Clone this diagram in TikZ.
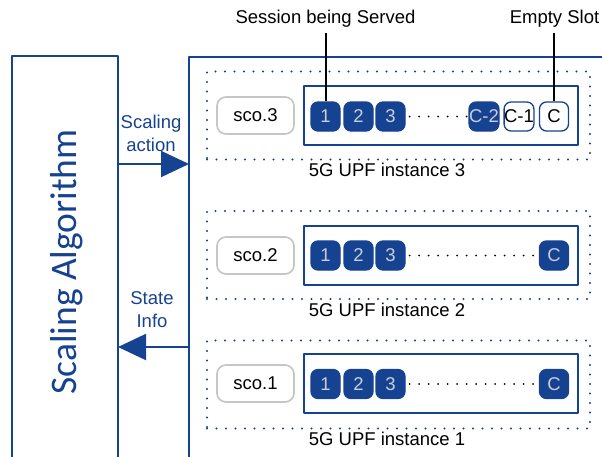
\documentclass[tikz,border=0pt]{standalone}
\usepackage{fontspec}
\setmainfont{Liberation Sans}
\newfontfamily\calibri{Carlito}
\usepackage{xcolor}
\usepackage{tikz}
\usetikzlibrary{arrows.meta,positioning}
\definecolor{upfblue}{RGB}{22,66,146}
\definecolor{slottext}{RGB}{200,206,218}

\begin{document}
\begin{tikzpicture}[x=1pt, y=-1pt, line join = round,
    every node/.style={font=\fontsize{18.5}{23}\selectfont},
    slot/.style={draw=upfblue, fill=upfblue, rounded corners=7pt, line width=1.3pt,
        minimum width=29pt, minimum height=29pt, inner sep=0pt, text=slottext},
    freeslot/.style={slot, fill=white, text=black},
    scobox/.style={draw=gray!45, rounded corners=9pt, line width=1.7pt,
        minimum width=77pt, minimum height=37pt, inner sep=0pt},
    instbox/.style={draw=upfblue, line width=2.2pt, line cap=round,
        dash pattern=on 0pt off 9.5pt, minimum width=383pt, minimum height=88pt, inner sep=0pt},
    queuebox/.style={draw=upfblue, line width=2pt, minimum width=274pt,
        minimum height=59pt, inner sep=0pt},
    dotrow/.style={line width=2pt, line cap=round, dash pattern=on 0pt off 9.5pt},
    flow/.style={upfblue, line width=2pt, -{Triangle[length=28pt,width=26pt]}}]

    \useasboundingbox (0,0) rectangle (602,456);
    \clip (0,0) rectangle (602,456);

    % scaling-algorithm
    \draw[upfblue, line width=2pt] (12,56) rectangle (118,470);
    \node[rotate=90, text=upfblue, font=\calibri\fontsize{37.5}{37.5}\selectfont] (alg) at (67,262) {Scaling Algorithm};

    % upf-area
    \draw[upfblue, line width=2pt] (189,57) rectangle (620,470);

    % arrows
    \coordinate (act-a) at (118,164);
    \coordinate (act-b) at (189,164);
    \coordinate (info-a) at (189,347);
    \coordinate (info-b) at (118,347);
    \draw[flow] (act-a) -- (act-b);
    \draw[flow] (info-a) -- (info-b);
    \node[text=upfblue, align=center] (act) at (151,133) {Scaling\\action};
    \node[text=upfblue, align=center] (info) at (152,310) {State\\Info};

    % third-instance
    \node[instbox] (upf3) at (398.5,115.5) {};
    \node[queuebox] (q3) at (441,115.5) {};
    \node[scobox] (sco3) at (255.5,115.5) {sco.3};
    \node[slot] (s31) at (325.5,116.5) {1};
    \node[slot] (s32) at (358.5,116.5) {2};
    \node[slot] (s33) at (390.5,116.5) {3};
    \node[slot] (s3c2) at (484,116.5) {C-2};
    \node[freeslot] (s3c1) at (519,116.5) {C-1};
    \node[freeslot] (s3c) at (554,116.5) {C};
    \draw[dotrow] ([xshift=4pt]s33.east) -- (s3c2.west);
    \node (lab3) at (387,170) {5G UPF instance 3};

    % second-instance
    \node[instbox] (upf2) at (398.5,255) {};
    \node[queuebox] (q2) at (441,255.5) {};
    \node[scobox] (sco2) at (255.5,255.5) {sco.2};
    \node[slot] (s21) at (325.5,255.5) {1};
    \node[slot] (s22) at (358.5,255.5) {2};
    \node[slot] (s23) at (390.5,255.5) {3};
    \node[slot] (s2c) at (554,255.5) {C};
    \draw[dotrow] ([xshift=4pt]s23.east) -- (s2c.west);
    \node (lab2) at (387,310) {5G UPF instance 2};

    % first-instance
    \node[instbox] (upf1) at (398.5,384.5) {};
    \node[queuebox] (q1) at (441,383.5) {};
    \node[scobox] (sco1) at (255.5,383.5) {sco.1};
    \node[slot] (s11) at (325.5,384) {1};
    \node[slot] (s12) at (358.5,384) {2};
    \node[slot] (s13) at (390.5,384) {3};
    \node[slot] (s1c) at (554,384) {C};
    \draw[dotrow] ([xshift=4pt]s13.east) -- (s1c.west);
    \node (lab1) at (387,439) {5G UPF instance 1};

    % callouts
    \node (served) at (325.5,19) {Session being Served};
    \node (empty) at (554.5,19) {Empty Slot};
    \draw[line width=2pt] ([yshift=-2pt]served.south -| s31.north) -- (s31.north);
    \draw[line width=2pt] ([yshift=-2pt]empty.south -| s3c.north) -- (s3c.north);

\end{tikzpicture}
\end{document}
